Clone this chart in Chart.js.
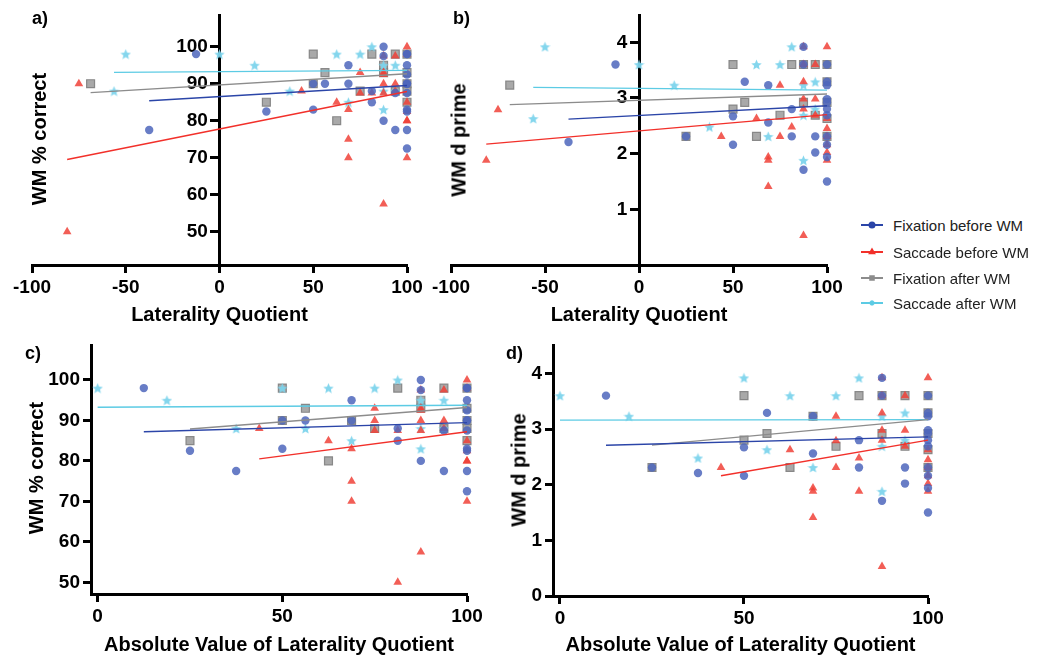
<!DOCTYPE html>
<html>
<head>
<meta charset="utf-8">
<script src="https://cdn.jsdelivr.net/npm/chart.js@4.4.1/dist/chart.umd.min.js"></script>
<style>
    body {
        margin: 0;
        width: 1047px;
        height: 660px;
        position: relative;
        overflow: hidden;
        background: #fff;
        font-family: 'Liberation Sans', Arial, Helvetica, sans-serif;
    }
    canvas { position: absolute; }
    .tag {
        position: absolute;
        font-weight: bold;
        font-size: 18px;
        line-height: 18px;
    }
    .ytitle {
        position: absolute;
        font-weight: bold;
        font-size: 20px;
        white-space: nowrap;
        transform: translate(-50%, -50%) rotate(-90deg);
    }
    .legend-item {
        position: absolute;
        left: 860px;
        height: 20px;
        display: flex;
        align-items: center;
        font-size: 15px;
        color: #222;
    }
    .legend-item canvas { position: static; margin-right: 9px; }
</style>
</head>
<body>

<canvas id="panelA" width="440" height="330" style="left:0;top:0"></canvas>
<canvas id="panelB" width="440" height="330" style="left:420px;top:0"></canvas>
<canvas id="panelC" width="490" height="330" style="left:0;top:330px"></canvas>
<canvas id="panelD" width="470" height="330" style="left:480px;top:330px"></canvas>

<div class="tag" style="left:32px;top:9px">a)</div>
<div class="tag" style="left:453px;top:9px">b)</div>
<div class="tag" style="left:25px;top:344px">c)</div>
<div class="tag" style="left:506px;top:344px">d)</div>

<div class="ytitle" style="left:39px;top:139px">WM % correct</div>
<div class="ytitle" style="left:459px;top:140px">WM d prime</div>
<div class="ytitle" style="left:36px;top:468px">WM % correct</div>
<div class="ytitle" style="left:519px;top:470px">WM d prime</div>

<div id="legend"></div>

<script>
// ---- data ----
const seriesNames = ['Fixation before WM', 'Saccade before WM', 'Fixation after WM', 'Saccade after WM'];

// Fixation before WM
const fixBeforeLQ = [-37.5, -12.5, 25, 50, 50, 56.25, 68.75, 68.75, 81.25, 81.25, 87.5, 87.5, 87.5, 93.75, 93.75,
    100, 100, 100, 100, 100, 100, 100, 100, 100, 100, 100];
const fixBeforePercent = [77.5, 98, 82.5, 90, 83, 90, 95, 90, 88, 85, 100, 97.5, 80, 87.5, 77.5,
    98, 98, 95, 92.5, 90, 90, 87.5, 83, 82.5, 77.5, 72.5];
const fixBeforeDprime = [2.21, 3.6, 2.31, 2.67, 2.16, 3.29, 3.23, 2.56, 2.8, 2.31, 3.92, 3.6, 1.71, 2.31, 2.02,
    3.6, 3.29, 3.23, 2.98, 2.92, 2.8, 2.69, 2.31, 2.16, 1.94, 1.5];

// Saccade before WM
const sacBeforeLQ = [-81.25, -75, 43.75, 62.5, 68.75, 68.75, 68.75, 75, 75, 81.25,
    87.5, 87.5, 87.5, 87.5, 87.5, 87.5, 93.75, 93.75, 93.75, 100, 100, 100, 100, 100, 100, 100];
const sacBeforePercent = [50, 90, 88, 85, 83, 75, 70, 93, 87.5, 87.5,
    97.5, 93, 92.5, 90, 87.5, 57.5, 97.5, 90, 88, 100, 98, 85, 82.5, 80, 80, 70];
const sacBeforeDprime = [1.88, 2.79, 2.31, 2.63, 1.94, 1.88, 1.41, 3.23, 2.31, 2.48,
    3.92, 3.6, 3.29, 2.98, 2.8, 0.53, 3.6, 2.98, 2.69, 3.92, 2.63, 2.45, 2.31, 2.16, 2.02, 1.88];

// Fixation after WM
const fixAfterLQ = [-68.75, 25, 50, 50, 56.25, 62.5, 75, 81.25, 87.5, 87.5, 93.75, 93.75, 100, 100, 100, 100, 100];
const fixAfterPercent = [90, 85, 98, 90, 93, 80, 88, 98, 95, 93, 98, 88, 98, 93, 90, 88, 85];
const fixAfterDprime = [3.23, 2.31, 3.6, 2.8, 2.92, 2.31, 2.69, 3.6, 3.6, 2.92, 3.6, 2.69, 3.6, 3.29, 2.92, 2.63, 2.31];

// Saccade after WM
const sacAfterLQ = [-56.25, -50, 0, 18.75, 37.5, 62.5, 68.75, 75, 81.25, 87.5, 87.5, 87.5, 93.75, 93.75];
const sacAfterPercent = [88, 98, 98, 95, 88, 98, 85, 98, 100, 95, 88, 83, 95, 88];
const sacAfterDprime = [2.63, 3.92, 3.6, 3.23, 2.48, 3.6, 2.31, 3.6, 3.92, 3.23, 2.69, 1.88, 3.29, 2.8];

// fitted lines, [start, end] per series (same order as seriesNames)
const fitLQPercent = [[[-37.5, 85.4], [100, 89.5]], [[-81.25, 69.5], [100, 87.9]],
    [[-68.75, 87.6], [100, 92.7]], [[-56.25, 93.05], [100, 93.6]]];
const fitLQDprime = [[[-37.5, 2.62], [100, 2.86]], [[-81.25, 2.17], [100, 2.7]],
    [[-68.75, 2.88], [100, 3.07]], [[-56.25, 3.19], [100, 3.14]]];
const fitAbsPercent = [[[12.5, 87.2], [100, 89.45]], [[43.75, 80.5], [100, 87.2]],
    [[25, 87.9], [100, 93.2]], [[0, 93.25], [100, 93.74]]];
const fitAbsDprime = [[[12.5, 2.71], [100, 2.86]], [[43.75, 2.16], [100, 2.8]],
    [[25, 2.71], [100, 3.17]], [[0, 3.16], [100, 3.17]]];

// tick labels
const xTicksLQ = [-100, -50, 0, 50, 100];
const xTicksAbs = [0, 50, 100];
const yTicksPercent = [50, 60, 70, 80, 90, 100];
const yTicksDprimeTop = [1, 2, 3, 4];
const yTicksDprimeBottom = [0, 1, 2, 3, 4];

const seriesLQ = [fixBeforeLQ, sacBeforeLQ, fixAfterLQ, sacAfterLQ];
const seriesPercent = [fixBeforePercent, sacBeforePercent, fixAfterPercent, sacAfterPercent];
const seriesDprime = [fixBeforeDprime, sacBeforeDprime, fixAfterDprime, sacAfterDprime];

// ---- styles ----
function makeStar(color, size) {
    const c = document.createElement('canvas');
    c.width = c.height = size;
    const ctx = c.getContext('2d');
    const r = size / 2, ri = r * 0.45;
    ctx.beginPath();
    for (let i = 0; i < 10; i++) {
        const rad = i % 2 ? ri : r;
        const a = -Math.PI / 2 + i * Math.PI / 5;
        ctx.lineTo(r + rad * Math.cos(a), r + 0.6 + rad * Math.sin(a));
    }
    ctx.closePath();
    ctx.fillStyle = color;
    ctx.fill();
    return c;
}

const seriesStyles = [
    {pointStyle: 'circle', radius: 4.2, fill: 'rgba(78,102,188,0.85)', border: 'rgba(78,102,188,0.85)', line: '#2b45a8', order: 1},
    {pointStyle: 'triangle', radius: 5, fill: 'rgba(240,66,56,0.85)', border: 'rgba(240,66,56,0.85)', line: '#f2302a', order: 2},
    {pointStyle: 'rect', radius: 5.6, fill: 'rgba(160,160,160,0.9)', border: 'rgba(128,128,128,0.9)', line: '#8c8c8c', order: 4},
    {pointStyle: makeStar('rgba(125,212,236,0.95)', 11), radius: 5, fill: 'rgba(125,212,236,0.95)', border: 'rgba(125,212,236,0.95)', line: '#5ccbe4', order: 3}
];

const tickFont = {family: "'Liberation Sans', Arial, sans-serif", size: 19, weight: 'bold'};
const titleFont = {family: "'Liberation Sans', Arial, sans-serif", size: 20, weight: 'bold'};

function buildDatasets(useAbs, values, fits) {
    const datasets = [];
    seriesNames.forEach((name, s) => {
        const st = seriesStyles[s];
        datasets.push({
            label: name,
            data: seriesLQ[s].map((lq, i) => ({x: useAbs ? Math.abs(lq) : lq, y: values[s][i]})),
            pointStyle: st.pointStyle,
            pointRadius: st.radius,
            backgroundColor: st.fill,
            borderColor: st.border,
            pointBorderWidth: s === 2 ? 1.2 : 0,
            showLine: false,
            clip: false,
            order: st.order
        });
        datasets.push({
            label: name + ' fit',
            data: fits[s].map(p => ({x: p[0], y: p[1]})),
            showLine: true,
            pointRadius: 0,
            borderColor: st.line,
            borderWidth: 1.4,
            clip: false,
            order: 0
        });
    });
    return datasets;
}

function axisCommon(ticks) {
    return {
        type: 'linear',
        afterBuildTicks: scale => { scale.ticks = ticks.map(v => ({value: v})); },
        grid: {drawOnChartArea: false, drawTicks: true, tickLength: 8, tickWidth: 3, tickColor: '#000'},
        border: {display: true, width: 3, color: '#000'},
        ticks: {color: '#000', font: tickFont, padding: 3, maxRotation: 0, autoSkip: false}
    };
}

function makePanel(id, cfg) {
    const scales = {};
    scales.x = Object.assign(axisCommon(cfg.xTicks), {
        position: 'bottom',
        min: cfg.xMin,
        max: cfg.xMax,
        afterFit: scale => { scale.height = cfg.xHeight; },
        title: {display: true, text: cfg.xTitle, color: '#000', font: titleFont, padding: {top: 0, bottom: 3}}
    });
    scales.y = Object.assign(axisCommon(cfg.yTicks), {min: cfg.yMin, max: cfg.yMax});

    if (cfg.yAtZero) {
        // axis line + tick marks sit on x = 0; a crossing axis gets no label padding,
        // so the labels come from a borderless twin scale placed a little to the left
        scales.y.position = {x: 0};
        scales.y.ticks.display = false;
        scales.yLabels = Object.assign(axisCommon(cfg.yTicks), {
            axis: 'y',
            position: {x: cfg.labelAt},
            min: cfg.yMin,
            max: cfg.yMax,
            grid: {display: false},
            border: {display: false}
        });
    }
    else {
        scales.y.position = 'left';
        scales.y.afterFit = scale => { scale.width = cfg.yWidth; };
    }

    return new Chart(document.getElementById(id), {
        type: 'scatter',
        data: {datasets: buildDatasets(cfg.useAbs, cfg.values, cfg.fits)},
        options: {
            responsive: false,
            animation: false,
            events: [],
            layout: {padding: cfg.padding},
            plugins: {legend: {display: false}, tooltip: {enabled: false}},
            scales
        }
    });
}

makePanel('panelA', {
    useAbs: false, values: seriesPercent, fits: fitLQPercent,
    xMin: -100, xMax: 100, yMin: 41, yMax: 108.57,
    xTicks: xTicksLQ, yTicks: yTicksPercent, yAtZero: true, labelAt: -6.2,
    xTitle: 'Laterality Quotient', xHeight: 65,
    padding: {left: 32, right: 33, top: 15, bottom: 0}
});

makePanel('panelB', {
    useAbs: false, values: seriesDprime, fits: fitLQDprime,
    xMin: -100, xMax: 100, yMin: 0, yMax: 4.49,
    xTicks: xTicksLQ, yTicks: yTicksDprimeTop, yAtZero: true, labelAt: -6.2,
    xTitle: 'Laterality Quotient', xHeight: 65,
    padding: {left: 31, right: 33, top: 15, bottom: 0}
});

makePanel('panelC', {
    useAbs: true, values: seriesPercent, fits: fitAbsPercent,
    xMin: -1.8, xMax: 100, yMin: 47.1, yMax: 108.65,
    xTicks: xTicksAbs, yTicks: yTicksPercent, yAtZero: false, yWidth: 91,
    xTitle: 'Absolute Value of Laterality Quotient', xHeight: 66,
    padding: {left: 0, right: 23, top: 15, bottom: 0}
});

makePanel('panelD', {
    useAbs: true, values: seriesDprime, fits: fitAbsDprime,
    xMin: -1.9, xMax: 100, yMin: 0, yMax: 4.51,
    xTicks: xTicksAbs, yTicks: yTicksDprimeBottom, yAtZero: false, yWidth: 73,
    xTitle: 'Absolute Value of Laterality Quotient', xHeight: 64,
    padding: {left: 0, right: 22, top: 15, bottom: 0}
});

// legend keys: short line with a small marker
const legendTops = [215, 242, 268, 293];
const legend = document.getElementById('legend');
seriesNames.forEach((name, s) => {
    const st = seriesStyles[s];
    const item = document.createElement('div');
    item.className = 'legend-item';
    item.style.top = legendTops[s] + 'px';
    const key = document.createElement('canvas');
    key.width = 24;
    key.height = 10;
    const ctx = key.getContext('2d');
    ctx.strokeStyle = st.line;
    ctx.lineWidth = 2;
    ctx.beginPath();
    ctx.moveTo(1, 5);
    ctx.lineTo(23, 5);
    ctx.stroke();
    Chart.helpers.drawPoint(ctx, {pointStyle: typeof st.pointStyle === 'string' ? st.pointStyle : 'star',
        radius: 2.5, borderWidth: 1}, 12, 5);
    ctx.fillStyle = st.line;
    ctx.fill();
    item.appendChild(key);
    item.appendChild(document.createTextNode(name));
    legend.appendChild(item);
});
</script>
</body>
</html>
